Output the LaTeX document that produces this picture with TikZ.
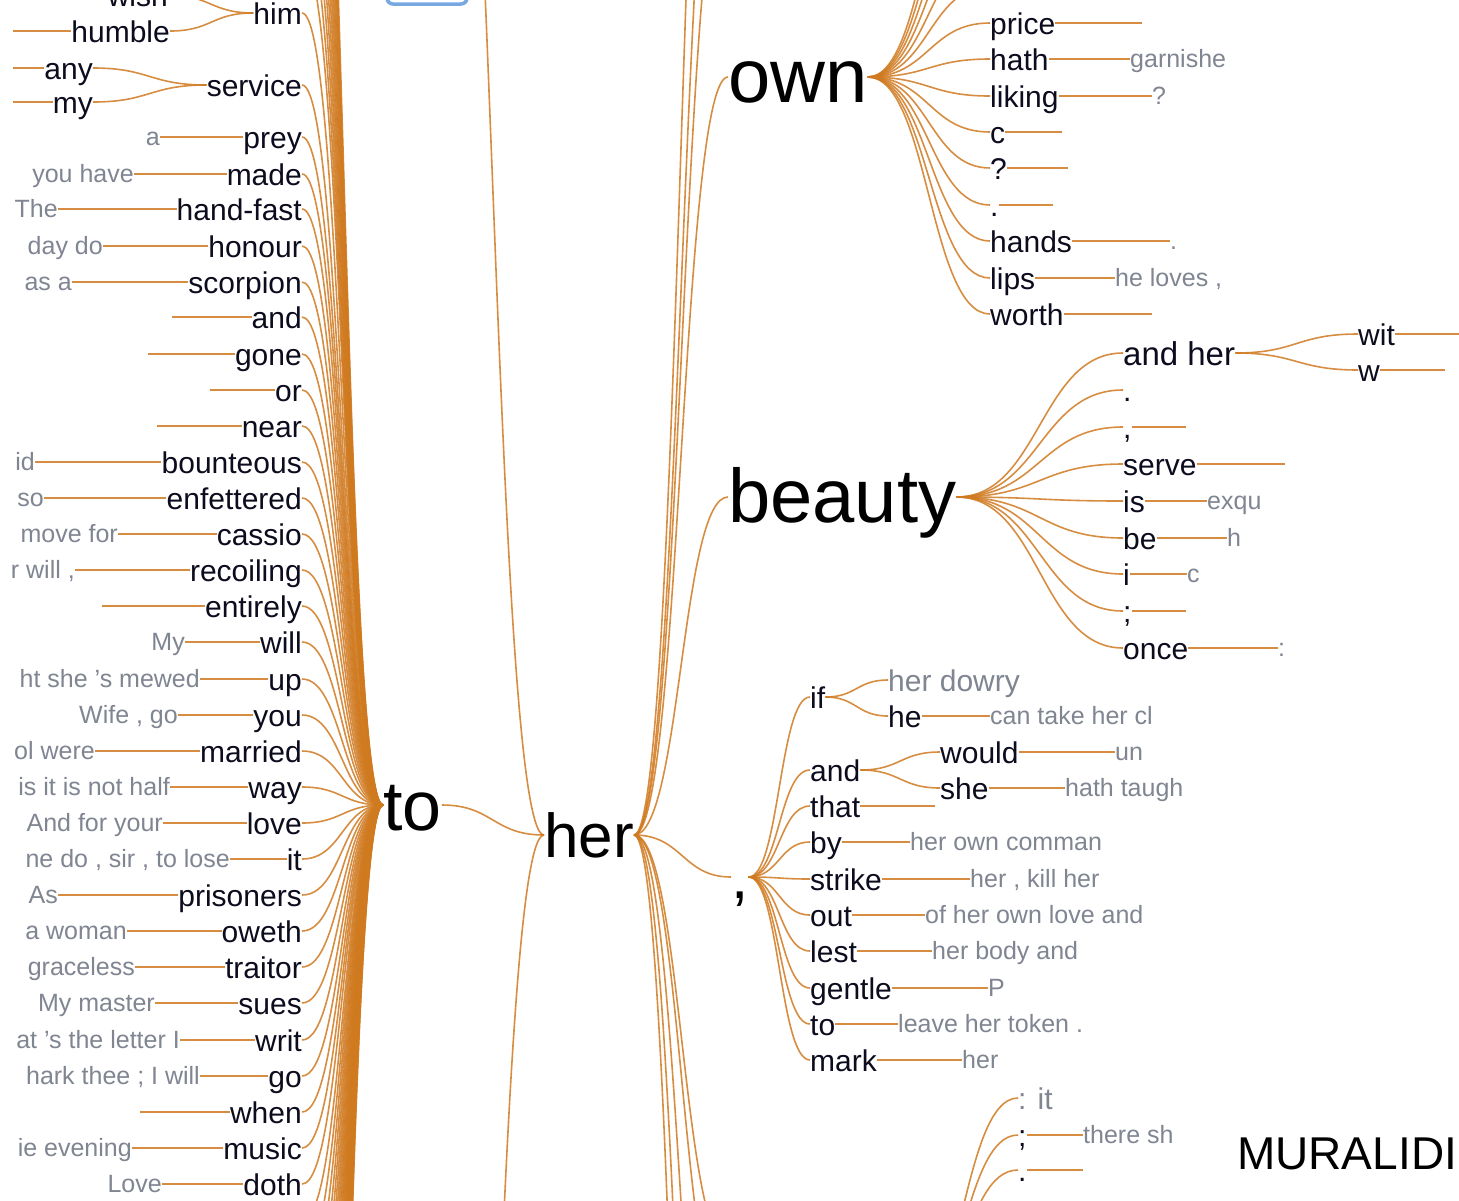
\documentclass[tikz,border=0pt]{standalone}
\usepackage{fontspec}
\setmainfont{Liberation Sans}
\usetikzlibrary{calc}
\definecolor{lkc}{RGB}{208,122,32}
\definecolor{grayc}{RGB}{128,133,146}
\definecolor{wordc}{RGB}{12,12,30}
\definecolor{boxc}{RGB}{120,168,225}
\begin{document}
\begin{tikzpicture}[x=1pt,y=-1pt,
  wd/.style={font=\fontsize{30}{30}\selectfont, text=wordc, inner sep=0pt, text height=22pt, text depth=0pt},
  wdb/.style={font=\fontsize{33}{33}\selectfont, text=wordc, inner sep=0pt, text height=24pt, text depth=0pt},
  gr/.style={font=\fontsize{25}{25}\selectfont, text=grayc, inner sep=0pt, text height=16pt, text depth=0pt},
  grb/.style={font=\fontsize{30}{30}\selectfont, text=grayc, inner sep=0pt, text height=22pt, text depth=0pt},
  lk/.style={draw=lkc, line width=1.6pt, draw opacity=0.85},
  bz/.style={to path={let \p1=(\tikztostart), \p2=(\tikztotarget), \n1={0.5*(\x2-\x1)} in .. controls (\x1+\n1,\y1) and (\x2-\n1,\y2) .. (\x2,\y2)}},
]
\useasboundingbox (0,0) rectangle (1459,1200);
\fill[white] (0,0) rectangle (1459,1200);

% blue box at top
\draw[draw=boxc, line width=3.5pt, rounded corners=6pt] (387,-30) rectangle (467,4);

% central words
\node[font=\fontsize{70}{70}\selectfont, text=black, inner sep=0pt, text height=50pt, text depth=0pt, anchor=west] (to) at (383,805) {to};
\node[font=\fontsize{62}{62}\selectfont, text=black, inner sep=0pt, text height=44pt, text depth=0pt, anchor=west] (her) at (544,835) {her};
\node[font=\fontsize{76}{76}\selectfont, text=black, inner sep=0pt, text height=50pt, text depth=0pt, anchor=west] (own) at (728,77) {own};
\node[font=\fontsize{76}{76}\selectfont, text=black, inner sep=0pt, text height=50pt, text depth=0pt, anchor=west] (beauty) at (728,497) {beauty};
\node[font=\fontsize{62}{62}\selectfont, text=black, inner sep=0pt, text height=42pt, text depth=0pt, anchor=west] (cm) at (731,877) {,};

\draw[lk] (to.east) to[bz] (her.west);
\draw[lk] (her.east) to[bz] (own.west);
\draw[lk] (her.east) to[bz] (beauty.west);
\draw[lk] (her.east) to[bz] (cm.west);

% her: other incoming / outgoing branches off the picture
\coordinate (hin1) at (440,-500);
\coordinate (hin2) at (440,2170);
\draw[lk] (hin1) to[bz] (her.west);
\draw[lk] (hin2) to[bz] (her.west);
\foreach \yy [count=\k] in {-150,-300,-600} {
  \coordinate (hup\k) at (730,\yy);
  \draw[lk] (her.east) to[bz] (hup\k);
}
\foreach \yy [count=\k] in {1250,1600,2000,2500} {
  \coordinate (hdn\k) at (730,\yy);
  \draw[lk] (her.east) to[bz] (hdn\k);
}

% ---------------- left side: words before "to"
\node[wd,anchor=east] (him) at (302,13) {him};
\node[wd,anchor=east] (service) at (302,85) {service};
\node[wd,anchor=east] (wish) at (168,-5) {wish};
\node[wd,anchor=east] (humble) at (170,31) {humble};
\node[wd,anchor=east] (any) at (93,68) {any};
\node[wd,anchor=east] (my) at (93,102) {my};
\coordinate (hu0) at (13,31);
\coordinate (an0) at (13,68);
\coordinate (my0) at (13,102);
\draw[lk] (hu0) -- (humble.west);
\draw[lk] (an0) -- (any.west);
\draw[lk] (my0) -- (my.west);
\draw[lk] (wish.east) to[bz] (him.west);
\draw[lk] (humble.east) to[bz] (him.west);
\draw[lk] (any.east) to[bz] (service.west);
\draw[lk] (my.east) to[bz] (service.west);
\draw[lk] (him.east) to[bz] (to.west);
\draw[lk] (service.east) to[bz] (to.west);

\foreach \y/\w/\g/\x [count=\i] in {
137/prey/a/160,
174/made/you have/134,
209/hand-fast/The/58,
246/honour/day do/103,
282/scorpion/as a/72,
462/bounteous/id/35,
498/enfettered/so/44,
534/cassio/move for/118,
570/recoiling/{r will ,}/75,
642/will/My/185,
679/up/ht she 's mewed/200,
715/you/{Wife , go}/178,
751/married/ol were/95,
787/way/is it is not half/170,
823/love/And for your/163,
859/it/{ne do , sir , to lose}/230,
895/prisoners/As/58,
931/oweth/a woman/127,
967/traitor/graceless/135,
1003/sues/My master/155,
1040/writ/at 's the letter I/180,
1076/go/hark thee ; I will/200,
1148/music/ie evening/132,
1184/doth/Love/162} {
  \node[wd,anchor=east] (L\i) at (302,\y) {\w};
  \node[gr,anchor=east] (G\i) at (\x,\y) {\g};
  \draw[lk] (G\i.east) -- (L\i.west);
  \draw[lk] (L\i.east) to[bz] (to.west);
}
\foreach \y/\w/\x [count=\i] in {317/and/172, 354/gone/148, 390/or/210, 426/near/157, 606/entirely/102, 1112/when/140} {
  \node[wd,anchor=east] (M\i) at (302,\y) {\w};
  \coordinate (MS\i) at (\x,\y);
  \draw[lk] (MS\i) -- (M\i.west);
  \draw[lk] (M\i.east) to[bz] (to.west);
}
% branches of "to" that lie beyond the picture
\foreach \k in {1,...,14} {
  \coordinate (up\k) at (303,{-5-36*\k});
  \draw[lk] (up\k) to[bz] (to.west);
}
\foreach \k in {1,...,30} {
  \coordinate (dn\k) at (303,{1184+36*\k});
  \draw[lk] (dn\k) to[bz] (to.west);
}

% ---------------- "own" branch
\node[wd,anchor=west] (o1) at (990,23) {price};
\node[wd,anchor=west] (o2) at (990,59) {hath};
\node[wd,anchor=west] (o3) at (990,96) {liking};
\node[wd,anchor=west] (o4) at (990,132) {c};
\node[wd,anchor=west] (o5) at (990,168) {?};
\node[wd,anchor=west] (o6) at (990,205) {.};
\node[wd,anchor=west] (o7) at (990,241) {hands};
\node[wd,anchor=west] (o8) at (990,278) {lips};
\node[wd,anchor=west] (o9) at (990,314) {worth};
\foreach \i in {1,...,9} {\draw[lk] (own.east) to[bz] (o\i.west);}
\foreach \k in {1,...,6} {
  \coordinate (oa\k) at (990,{23-36.4*\k});
  \draw[lk] (own.east) to[bz] (oa\k);
}
\coordinate (o1t) at (1142,23);
\node[gr,anchor=west] (o2g) at (1130,59) {garnishe};
\node[gr,anchor=west] (o3g) at (1152,96) {?};
\coordinate (o4t) at (1062,132);
\coordinate (o5t) at (1068,168);
\coordinate (o6t) at (1053,205);
\node[gr,anchor=west] (o7g) at (1170,241) {.};
\node[gr,anchor=west] (o8g) at (1115,278) {he loves ,};
\coordinate (o9t) at (1152,314);
\draw[lk] (o1.east) -- (o1t);
\draw[lk] (o2.east) -- (o2g.west);
\draw[lk] (o3.east) -- (o3g.west);
\draw[lk] (o4.east) -- (o4t);
\draw[lk] (o5.east) -- (o5t);
\draw[lk] (o6.east) -- (o6t);
\draw[lk] (o7.east) -- (o7g.west);
\draw[lk] (o8.east) -- (o8g.west);
\draw[lk] (o9.east) -- (o9t);

% ---------------- "beauty" branch
\node[wdb,anchor=west] (b1) at (1123,353) {and her};
\node[wd,anchor=west] (b2) at (1123,390) {.};
\node[wd,anchor=west] (b3) at (1123,427) {,};
\node[wd,anchor=west] (b4) at (1123,464) {serve};
\node[wd,anchor=west] (b5) at (1123,501) {is};
\node[wd,anchor=west] (b6) at (1123,538) {be};
\node[wd,anchor=west] (b7) at (1123,574) {i};
\node[wd,anchor=west] (b8) at (1123,611) {;};
\node[wd,anchor=west] (b9) at (1123,648) {once};
\foreach \i in {1,...,9} {\draw[lk] (beauty.east) to[bz] (b\i.west);}
\node[wd,anchor=west] (wit) at (1358,334) {wit};
\node[wd,anchor=west] (ww) at (1358,370) {w};
\draw[lk] (b1.east) to[bz] (wit.west);
\draw[lk] (b1.east) to[bz] (ww.west);
\coordinate (witt) at (1470,334);
\coordinate (wwt) at (1445,370);
\draw[lk] (wit.east) -- (witt);
\draw[lk] (ww.east) -- (wwt);
\coordinate (b3t) at (1186,427);
\coordinate (b4t) at (1285,464);
\node[gr,anchor=west] (b5g) at (1207,501) {exqu};
\node[gr,anchor=west] (b6g) at (1227,538) {h};
\node[gr,anchor=west] (b7g) at (1187,574) {c};
\coordinate (b8t) at (1186,611);
\node[gr,anchor=west] (b9g) at (1278,648) {:};
\draw[lk] (b3.east) -- (b3t);
\draw[lk] (b4.east) -- (b4t);
\draw[lk] (b5.east) -- (b5g.west);
\draw[lk] (b6.east) -- (b6g.west);
\draw[lk] (b7.east) -- (b7g.west);
\draw[lk] (b8.east) -- (b8t);
\draw[lk] (b9.east) -- (b9g.west);

% ---------------- "," branch
\node[wd,anchor=west] (c1) at (810,697) {if};
\node[wd,anchor=west] (c2) at (810,770) {and};
\node[wd,anchor=west] (c3) at (810,806) {that};
\node[wd,anchor=west] (c4) at (810,842) {by};
\node[wd,anchor=west] (c5) at (810,879) {strike};
\node[wd,anchor=west] (c6) at (810,915) {out};
\node[wd,anchor=west] (c7) at (810,951) {lest};
\node[wd,anchor=west] (c8) at (810,988) {gentle};
\node[wd,anchor=west] (c9) at (810,1024) {to};
\node[wd,anchor=west] (c10) at (810,1060) {mark};
\foreach \i in {1,...,10} {\draw[lk] (cm.east) to[bz] (c\i.west);}
\node[grb,anchor=west] (hd) at (888,680) {her dowry};
\node[wd,anchor=west] (he) at (888,716) {he};
\draw[lk] (c1.east) to[bz] (hd.west);
\draw[lk] (c1.east) to[bz] (he.west);
\node[gr,anchor=west] (heg) at (990,716) {can take her cl};
\draw[lk] (he.east) -- (heg.west);
\node[wd,anchor=west] (would) at (940,752) {would};
\node[wd,anchor=west] (she) at (940,788) {she};
\draw[lk] (c2.east) to[bz] (would.west);
\draw[lk] (c2.east) to[bz] (she.west);
\node[gr,anchor=west] (wog) at (1115,752) {un};
\node[gr,anchor=west] (shg) at (1065,788) {hath taugh};
\draw[lk] (would.east) -- (wog.west);
\draw[lk] (she.east) -- (shg.west);
\coordinate (c3t) at (935,806);
\draw[lk] (c3.east) -- (c3t);
\node[gr,anchor=west] (c4g) at (910,842) {her own comman};
\node[gr,anchor=west] (c5g) at (970,879) {her , kill her};
\node[gr,anchor=west] (c6g) at (925,915) {of her own love and};
\node[gr,anchor=west] (c7g) at (932,951) {her body and};
\node[gr,anchor=west] (c8g) at (988,988) {P};
\node[gr,anchor=west] (c9g) at (898,1024) {leave her token .};
\node[gr,anchor=west] (c10g) at (962,1060) {her};
\foreach \i in {4,...,10} {\draw[lk] (c\i.east) -- (c\i g.west);}

% ---------------- branch below the picture
\coordinate (bw) at (730,1330);
\coordinate (bwr) at (905,1330);
\draw[lk] (her.east) to[bz] (bw);
\node[grb,anchor=west] (e1) at (1018,1098) {: it};
\node[wd,anchor=west] (e2) at (1018,1135) {;};
\node[wd,anchor=west] (e3) at (1018,1170) {.};
\foreach \i in {1,2,3} {\draw[lk] (bwr) to[bz] (e\i.west);}
\node[gr,anchor=west] (e2g) at (1083,1135) {there sh};
\coordinate (e3t) at (1083,1170);
\draw[lk] (e2.east) -- (e2g.west);
\draw[lk] (e3.east) -- (e3t);

% name at the bottom right
\node[font=\fontsize{46}{46}\selectfont, text=black, inner sep=0pt, anchor=base west] (mur) at (1237,1169) {MURALIDI};
\end{tikzpicture}
\end{document}
